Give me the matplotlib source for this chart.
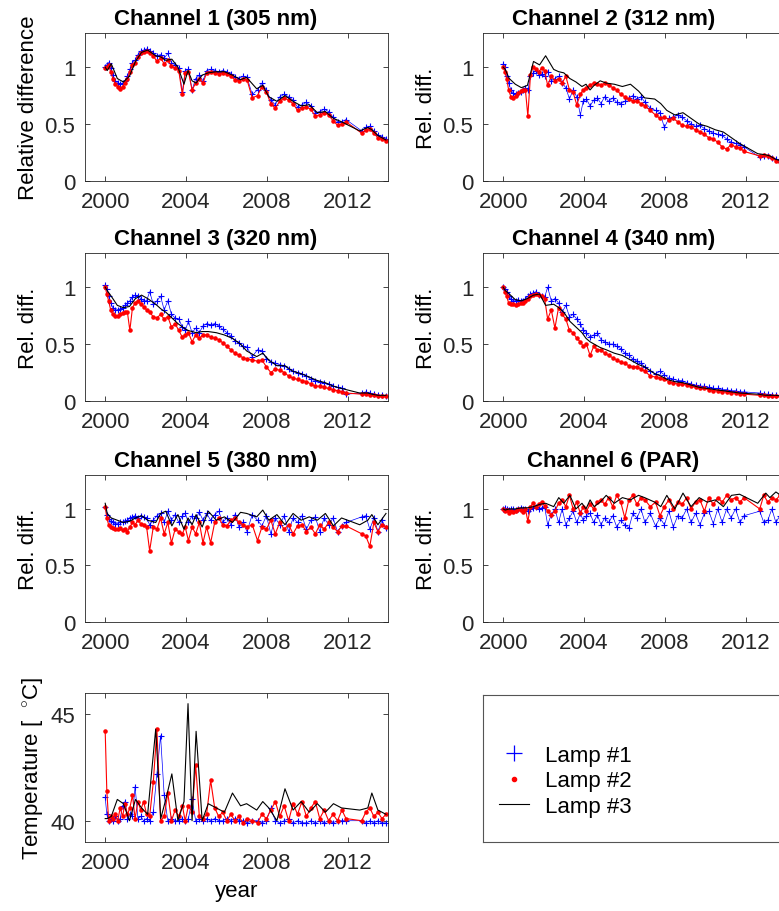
import numpy as np
import matplotlib
matplotlib.use("Agg")
import matplotlib.pyplot as plt
from matplotlib.lines import Line2D

plt.rcParams['font.family'] = ['Liberation Sans', 'DejaVu Sans']
plt.rcParams['mathtext.fontset'] = 'custom'
plt.rcParams['mathtext.rm'] = 'Liberation Sans'

# measurement dates for lamps #1 and #2 (decimal year)
dates_12 = [2000.00, 2000.08, 2000.17, 2000.27, 2000.38, 2000.50, 2000.62, 2000.74, 2000.86, 2000.98,
            2001.10, 2001.22, 2001.35, 2001.48, 2001.62, 2001.76, 2001.90, 2002.05, 2002.20, 2002.38,
            2002.56, 2002.74, 2002.92, 2003.10, 2003.28, 2003.46, 2003.64, 2003.82, 2003.96, 2004.12,
            2004.30, 2004.48, 2004.66, 2004.84, 2005.02, 2005.22, 2005.42, 2005.62, 2005.82, 2006.02,
            2006.22, 2006.42, 2006.62, 2006.82, 2007.02, 2007.28, 2007.54, 2007.76, 2007.98, 2008.20,
            2008.42, 2008.64, 2008.86, 2009.08, 2009.30, 2009.52, 2009.74, 2009.96, 2010.18, 2010.40,
            2010.62, 2010.84, 2011.06, 2011.28, 2011.50, 2011.72, 2011.92, 2012.70, 2012.90, 2013.10,
            2013.30, 2013.50, 2013.70, 2013.90]

# measurement dates for lamp #3
dates_3 = [2000.00, 2000.10, 2000.30, 2000.60, 2000.90, 2001.20, 2001.50, 2001.80, 2002.10, 2002.50,
           2002.75, 2003.00, 2003.30, 2003.60, 2003.90, 2004.10, 2004.30, 2004.50, 2004.80, 2005.10,
           2005.50, 2005.90, 2006.30, 2006.70, 2007.00, 2007.50, 2007.80, 2008.10, 2008.50, 2008.90,
           2009.30, 2009.70, 2010.10, 2010.50, 2010.90, 2011.30, 2011.70, 2012.60, 2013.00, 2013.20,
           2013.50, 2013.90]

# Channel 1 (305 nm)
ch1_lamp1 = [1.00, 1.02, 1.04, 0.99, 0.93, 0.88, 0.86, 0.85, 0.86, 0.88,
             0.92, 0.98, 1.04, 1.06, 1.11, 1.14, 1.15, 1.16, 1.14, 1.12,
             1.10, 1.11, 1.08, 1.12, 1.04, 1.02, 0.99, 0.78, 0.97, 0.98,
             0.80, 0.90, 0.93, 0.88, 0.97, 0.98, 0.97, 0.96, 0.97, 0.96,
             0.94, 0.91, 0.90, 0.92, 0.91, 0.76, 0.80, 0.86, 0.80, 0.71,
             0.67, 0.74, 0.76, 0.74, 0.71, 0.65, 0.67, 0.69, 0.66, 0.60,
             0.61, 0.63, 0.61, 0.56, 0.52, 0.52, 0.54, 0.44, 0.47, 0.48,
             0.44, 0.40, 0.39, 0.37]
ch1_lamp2 = [0.99, 1.00, 1.02, 0.96, 0.90, 0.85, 0.83, 0.81, 0.83, 0.86,
             0.90, 0.96, 1.02, 1.04, 1.09, 1.12, 1.13, 1.14, 1.12, 1.10,
             1.05, 1.08, 1.03, 1.06, 1.01, 0.99, 0.97, 0.76, 0.95, 0.96,
             0.80, 0.86, 0.90, 0.86, 0.95, 0.96, 0.95, 0.94, 0.95, 0.94,
             0.92, 0.89, 0.88, 0.90, 0.89, 0.73, 0.75, 0.83, 0.78, 0.68,
             0.64, 0.70, 0.73, 0.71, 0.68, 0.62, 0.64, 0.65, 0.63, 0.57,
             0.58, 0.60, 0.58, 0.53, 0.49, 0.50, 0.52, 0.42, 0.45, 0.46,
             0.42, 0.38, 0.37, 0.35]
ch1_lamp3 = [1.00, 0.97, 1.03, 0.90, 0.87, 0.92, 1.05, 1.13, 1.15, 1.10,
             1.09, 1.06, 1.07, 1.00, 0.85, 0.97, 0.88, 0.86, 0.93, 0.95,
             0.96, 0.96, 0.93, 0.89, 0.91, 0.81, 0.84, 0.74, 0.70, 0.75,
             0.70, 0.66, 0.67, 0.60, 0.61, 0.55, 0.52, 0.44, 0.47, 0.45,
             0.40, 0.36]

# Channel 2 (312 nm)
ch2_lamp1 = [1.03, 1.00, 0.92, 0.86, 0.80, 0.77, 0.76, 0.77, 0.78, 0.80,
             0.82, 0.80, 0.92, 0.95, 0.97, 0.93, 0.94, 0.92, 0.96, 0.88,
             0.90, 0.92, 0.86, 0.82, 0.72, 0.80, 0.74, 0.58, 0.70, 0.72,
             0.66, 0.71, 0.73, 0.68, 0.74, 0.70, 0.73, 0.69, 0.68, 0.70,
             0.73, 0.75, 0.72, 0.74, 0.69, 0.64, 0.62, 0.60, 0.47, 0.55,
             0.56, 0.58, 0.56, 0.53, 0.50, 0.48, 0.49, 0.46, 0.44, 0.42,
             0.41, 0.40, 0.37, 0.34, 0.33, 0.32, 0.30, 0.21, 0.22, 0.22,
             0.20, 0.19, 0.17, 0.16]
ch2_lamp2 = [1.00, 0.96, 0.90, 0.80, 0.74, 0.73, 0.75, 0.77, 0.79, 0.80,
             0.80, 0.57, 0.93, 1.00, 0.98, 0.96, 0.99, 0.97, 0.84, 0.92,
             0.88, 0.90, 0.86, 0.92, 0.80, 0.78, 0.67, 0.76, 0.80, 0.82,
             0.84, 0.86, 0.85, 0.84, 0.86, 0.84, 0.82, 0.80, 0.76, 0.74,
             0.72, 0.70, 0.70, 0.68, 0.66, 0.62, 0.58, 0.55, 0.56, 0.54,
             0.55, 0.52, 0.49, 0.48, 0.47, 0.45, 0.43, 0.41, 0.38, 0.37,
             0.34, 0.30, 0.28, 0.32, 0.30, 0.29, 0.26, 0.22, 0.23, 0.22,
             0.20, 0.18, 0.17, 0.15]
ch2_lamp3 = [1.00, 0.98, 0.90, 0.85, 0.82, 0.84, 1.05, 1.02, 1.10, 0.98,
             0.96, 0.95, 0.90, 0.87, 0.83, 0.85, 0.80, 0.84, 0.88, 0.86,
             0.85, 0.83, 0.85, 0.79, 0.73, 0.72, 0.68, 0.62, 0.58, 0.60,
             0.55, 0.50, 0.48, 0.45, 0.43, 0.38, 0.33, 0.24, 0.23, 0.22,
             0.19, 0.17]

# Channel 3 (320 nm)
ch3_lamp1 = [1.02, 0.98, 0.92, 0.86, 0.82, 0.80, 0.80, 0.81, 0.82, 0.84,
             0.86, 0.88, 0.91, 0.93, 0.92, 0.90, 0.88, 0.88, 0.96, 0.85,
             0.88, 0.92, 0.80, 0.88, 0.76, 0.73, 0.72, 0.65, 0.62, 0.70,
             0.60, 0.64, 0.60, 0.66, 0.68, 0.67, 0.68, 0.66, 0.63, 0.60,
             0.57, 0.53, 0.51, 0.48, 0.47, 0.39, 0.45, 0.44, 0.37, 0.34,
             0.33, 0.32, 0.31, 0.28, 0.26, 0.25, 0.24, 0.22, 0.19, 0.18,
             0.17, 0.16, 0.15, 0.13, 0.12, 0.11, 0.06, 0.07, 0.08, 0.07,
             0.06, 0.05, 0.05, 0.04]
ch3_lamp2 = [1.00, 0.94, 0.88, 0.80, 0.76, 0.75, 0.75, 0.76, 0.77, 0.78,
             0.78, 0.62, 0.82, 0.86, 0.88, 0.85, 0.83, 0.80, 0.78, 0.74,
             0.73, 0.76, 0.72, 0.74, 0.65, 0.68, 0.62, 0.56, 0.58, 0.60,
             0.52, 0.58, 0.55, 0.58, 0.58, 0.56, 0.55, 0.54, 0.51, 0.48,
             0.45, 0.42, 0.40, 0.38, 0.37, 0.36, 0.35, 0.36, 0.30, 0.25,
             0.28, 0.27, 0.25, 0.22, 0.20, 0.19, 0.18, 0.17, 0.15, 0.13,
             0.13, 0.12, 0.11, 0.10, 0.09, 0.08, 0.07, 0.06, 0.06, 0.05,
             0.05, 0.04, 0.04, 0.04]
ch3_lamp3 = [1.00, 0.97, 0.92, 0.84, 0.82, 0.83, 0.90, 0.93, 0.90, 0.85,
             0.81, 0.78, 0.73, 0.68, 0.64, 0.62, 0.61, 0.60, 0.61, 0.61,
             0.60, 0.58, 0.55, 0.50, 0.44, 0.39, 0.42, 0.36, 0.31, 0.31,
             0.26, 0.24, 0.21, 0.18, 0.16, 0.13, 0.11, 0.07, 0.07, 0.06,
             0.05, 0.05]

# Channel 4 (340 nm)
ch4_lamp1 = [1.00, 0.98, 0.96, 0.92, 0.90, 0.88, 0.88, 0.89, 0.88, 0.88,
             0.90, 0.92, 0.94, 0.95, 0.96, 0.93, 0.92, 0.91, 1.00, 0.88,
             0.90, 0.86, 0.78, 0.84, 0.74, 0.76, 0.72, 0.68, 0.62, 0.60,
             0.56, 0.58, 0.60, 0.54, 0.52, 0.50, 0.50, 0.48, 0.46, 0.42,
             0.40, 0.37, 0.35, 0.33, 0.30, 0.26, 0.24, 0.26, 0.23, 0.20,
             0.19, 0.18, 0.18, 0.16, 0.15, 0.14, 0.13, 0.13, 0.12, 0.11,
             0.11, 0.10, 0.10, 0.09, 0.09, 0.08, 0.08, 0.07, 0.06, 0.06,
             0.05, 0.05, 0.05, 0.04]
ch4_lamp2 = [1.00, 0.96, 0.92, 0.86, 0.85, 0.85, 0.84, 0.85, 0.86, 0.86,
             0.88, 0.90, 0.92, 0.93, 0.94, 0.93, 0.92, 0.90, 0.72, 0.80,
             0.64, 0.82, 0.76, 0.72, 0.62, 0.60, 0.55, 0.52, 0.48, 0.50,
             0.40, 0.48, 0.45, 0.45, 0.42, 0.40, 0.38, 0.36, 0.34, 0.33,
             0.31, 0.30, 0.30, 0.28, 0.26, 0.22, 0.21, 0.20, 0.19, 0.17,
             0.16, 0.15, 0.15, 0.14, 0.13, 0.12, 0.11, 0.11, 0.10, 0.09,
             0.09, 0.08, 0.08, 0.07, 0.07, 0.06, 0.06, 0.05, 0.05, 0.04,
             0.04, 0.04, 0.04, 0.04]
ch4_lamp3 = [1.00, 0.97, 0.94, 0.89, 0.88, 0.90, 0.93, 0.94, 0.84, 0.85,
             0.82, 0.78, 0.70, 0.65, 0.60, 0.55, 0.52, 0.50, 0.47, 0.45,
             0.42, 0.40, 0.36, 0.32, 0.30, 0.24, 0.22, 0.19, 0.17, 0.16,
             0.14, 0.12, 0.11, 0.10, 0.09, 0.08, 0.07, 0.06, 0.05, 0.05,
             0.05, 0.04]

# Channel 5 (380 nm)
ch5_lamp1 = [1.02, 0.95, 0.91, 0.89, 0.88, 0.87, 0.87, 0.88, 0.88, 0.89,
             0.90, 0.92, 0.93, 0.94, 0.92, 0.94, 0.93, 0.92, 0.86, 0.90,
             0.94, 0.96, 0.88, 0.98, 0.90, 0.95, 0.88, 0.94, 0.96, 0.88,
             0.94, 0.92, 0.97, 0.90, 0.96, 0.90, 0.95, 0.98, 0.88, 0.92,
             0.86, 0.95, 0.84, 0.88, 0.80, 0.95, 0.90, 0.85, 0.94, 0.78,
             0.92, 0.86, 0.94, 0.80, 0.92, 0.88, 0.94, 0.82, 0.90, 0.93,
             0.80, 0.92, 0.86, 0.92, 0.80, 0.85, 0.88, 0.93, 0.94, 0.82,
             0.92, 0.80, 0.90, 0.83]
ch5_lamp2 = [1.02, 0.92, 0.86, 0.84, 0.83, 0.82, 0.82, 0.83, 0.81, 0.82,
             0.80, 0.84, 0.88, 0.86, 0.90, 0.87, 0.86, 0.84, 0.63, 0.84,
             0.82, 0.92, 0.78, 0.88, 0.70, 0.82, 0.80, 0.78, 0.84, 0.72,
             0.84, 0.78, 0.88, 0.70, 0.84, 0.70, 0.88, 0.92, 0.86, 0.85,
             0.90, 0.92, 0.88, 0.86, 0.84, 0.86, 0.72, 0.84, 0.82, 0.90,
             0.78, 0.88, 0.82, 0.86, 0.78, 0.85, 0.86, 0.80, 0.84, 0.78,
             0.86, 0.82, 0.88, 0.84, 0.80, 0.85, 0.85, 0.78, 0.76, 0.67,
             0.88, 0.80, 0.86, 0.84]
ch5_lamp3 = [1.05, 0.96, 0.92, 0.90, 0.88, 0.89, 0.92, 0.94, 0.90, 0.88,
             0.96, 0.98, 0.85, 0.95, 0.82, 0.92, 0.86, 0.95, 0.84, 0.98,
             0.90, 0.93, 0.88, 0.97, 0.96, 0.93, 0.99, 0.90, 0.95, 0.86,
             0.96, 0.90, 0.93, 0.90, 0.96, 0.85, 0.92, 0.86, 0.90, 0.95,
             0.86, 0.96]

# Channel 6 (PAR)
ch6_lamp1 = [1.00, 1.01, 1.00, 0.99, 1.00, 1.00, 0.99, 1.00, 1.01, 1.00,
             1.00, 0.98, 1.00, 1.01, 1.02, 1.00, 1.01, 1.02, 0.86, 0.95,
             1.00, 0.88, 1.00, 0.86, 0.92, 0.98, 0.88, 0.96, 0.90, 0.94,
             0.96, 0.88, 0.95, 0.86, 0.92, 0.88, 0.94, 0.84, 0.90, 0.86,
             0.83, 0.96, 0.92, 1.00, 0.88, 0.96, 0.85, 0.92, 0.86, 0.98,
             0.84, 0.94, 0.92, 1.00, 0.88, 0.96, 0.86, 0.96, 0.98, 0.87,
             1.00, 0.88, 1.00, 0.92, 1.00, 0.88, 0.94, 0.98, 0.88, 0.90,
             1.00, 0.88, 0.94, 0.90]
ch6_lamp2 = [1.00, 0.98, 0.99, 0.96, 0.98, 0.97, 0.98, 1.00, 0.99, 0.97,
             1.00, 0.89, 1.02, 1.05, 1.02, 1.04, 1.06, 1.03, 0.98, 0.95,
             0.98, 1.05, 1.08, 1.02, 1.12, 1.00, 1.06, 0.96, 1.02, 0.98,
             1.04, 1.00, 1.06, 1.08, 1.04, 1.10, 1.02, 1.12, 1.06, 0.92,
             1.08, 1.12, 1.04, 1.10, 1.08, 1.02, 1.06, 0.94, 1.02, 1.08,
             1.00, 1.06, 1.04, 1.10, 1.00, 1.06, 1.08, 0.98, 1.10, 1.04,
             1.10, 1.06, 1.12, 1.08, 1.10, 1.06, 1.10, 1.00, 1.12, 1.06,
             1.10, 1.08, 1.12, 1.10]
ch6_lamp3 = [1.00, 0.99, 1.00, 1.00, 1.01, 1.01, 1.02, 1.04, 1.05, 1.02,
             1.10, 1.05, 1.12, 1.00, 1.05, 1.00, 1.08, 1.02, 1.06, 1.12,
             1.05, 1.10, 1.08, 1.12, 1.10, 1.06, 1.02, 1.12, 1.00, 1.14,
             1.02, 1.10, 1.06, 1.08, 1.02, 1.12, 1.13, 1.05, 1.14, 1.10,
             1.15, 1.10]

# lamp temperature [deg C]
temp_lamp1 = [41.1, 40.3, 40.0, 40.1, 40.0, 40.2, 40.0, 40.1, 40.7, 40.9,
              40.1, 40.3, 40.2, 41.6, 40.1, 40.2, 40.0, 40.1, 40.0, 40.4,
              42.2, 44.0, 41.2, 40.0, 40.1, 40.0, 40.0, 40.1, 40.0, 40.1,
              41.0, 40.0, 40.1, 40.0, 40.1, 40.0, 40.1, 40.0, 40.0, 40.1,
              40.0, 40.1, 40.0, 40.0, 39.9, 40.0, 40.0, 39.9, 40.0, 40.6,
              40.0, 39.9, 40.0, 40.1, 39.9, 40.0, 39.9, 39.9, 40.0, 39.9,
              40.0, 39.9, 40.0, 39.9, 40.0, 40.0, 40.0, 40.0, 39.9, 40.0,
              39.9, 40.0, 39.9, 39.9]
temp_lamp2 = [44.2, 41.4, 40.0, 40.2, 40.1, 40.3, 40.0, 40.6, 40.2, 40.8,
              40.3, 40.6, 41.2, 40.1, 40.9, 40.5, 40.9, 40.3, 40.2, 41.8,
              44.3, 40.0, 40.2, 41.3, 40.0, 40.5, 40.2, 40.7, 40.0, 40.7,
              40.4, 42.6, 40.2, 40.1, 40.3, 41.9, 40.6, 40.2, 40.4, 40.0,
              40.3, 40.0, 40.2, 39.9, 40.1, 40.0, 39.9, 40.3, 40.1, 40.5,
              40.9, 40.2, 40.7, 40.0, 40.8, 40.3, 40.9, 40.2, 40.6, 40.9,
              40.1, 40.5, 40.0, 40.3, 40.0, 40.5, 40.1, 40.0, 40.4, 40.6,
              40.2, 40.4, 40.1, 40.3]
temp_lamp3 = [40.1, 40.1, 40.2, 41.0, 40.8, 40.0, 41.0, 40.6, 40.3, 44.3,
              40.1, 41.0, 42.2, 40.0, 40.9, 45.5, 40.0, 44.2, 40.0, 40.8,
              40.6, 40.4, 41.3, 40.7, 40.8, 40.5, 40.9, 40.6, 40.0, 41.5,
              40.5, 40.9, 40.4, 40.8, 40.4, 40.8, 40.6, 40.5, 40.6, 41.3,
              40.5, 40.3]

titles = ['Channel 1 (305 nm)', 'Channel 2 (312 nm)', 'Channel 3 (320 nm)',
          'Channel 4 (340 nm)', 'Channel 5 (380 nm)', 'Channel 6 (PAR)']
channels = [(ch1_lamp1, ch1_lamp2, ch1_lamp3), (ch2_lamp1, ch2_lamp2, ch2_lamp3),
            (ch3_lamp1, ch3_lamp2, ch3_lamp3), (ch4_lamp1, ch4_lamp2, ch4_lamp3),
            (ch5_lamp1, ch5_lamp2, ch5_lamp3), (ch6_lamp1, ch6_lamp2, ch6_lamp3)]
year_ticks = [2000, 2004, 2008, 2012]
labels = ['Lamp #1', 'Lamp #2', 'Lamp #3']

W, H = 779, 912
AX_COLOR = '#262626'


def px_axes(fig, left, top, right, bottom):
    """Add axes from pixel box (origin top left)."""
    return fig.add_axes([left / W, 1 - bottom / H, (right - left) / W, (bottom - top) / H])


def style_axes(ax):
    ax.tick_params(direction='in', length=3.5, width=0.6, top=True, right=True,
                   labelsize=16, colors=AX_COLOR, pad=7)
    for s in ax.spines.values():
        s.set_color(AX_COLOR)
        s.set_linewidth(0.6)


def draw_lamps(ax, y1, y2, y3):
    ax.plot(dates_12, y1, color='blue', marker='+', markersize=5, markeredgewidth=0.8, lw=0.5)
    ax.plot(dates_12, y2, color='red', marker='.', markersize=4.5, lw=0.8)
    ax.plot(dates_3, y3, color='black', lw=0.8)


fig = plt.figure(figsize=(W / 100, H / 100), dpi=100)

col_left = [85, 483]
row_top = [34, 254, 476]
row_bottom = [182, 402, 623]

for i, (title, (y1, y2, y3)) in enumerate(zip(titles, channels)):
    r, c = divmod(i, 2)
    ax = px_axes(fig, col_left[c], row_top[r], col_left[c] + 303, row_bottom[r])
    draw_lamps(ax, y1, y2, y3)
    ax.set_xlim(1999, 2014)
    ax.set_ylim(0, 1.3)
    ax.set_xticks(year_ticks)
    ax.set_yticks([0, 0.5, 1])
    ax.set_yticklabels(['0', '0.5', '1'])
    ax.set_title(title, fontsize=16, fontweight='bold', x=0.43, pad=6.5)
    if i == 0:
        ax.set_ylabel('Relative difference', fontsize=16, labelpad=4)
    else:
        ax.set_ylabel('Rel. diff.', fontsize=16, labelpad=4)
    style_axes(ax)

# temperature panel
ax_t = px_axes(fig, 85, 694, 388, 843)
draw_lamps(ax_t, temp_lamp1, temp_lamp2, temp_lamp3)
ax_t.set_xlim(1999, 2014)
ax_t.set_ylim(39, 46)
ax_t.set_xticks(year_ticks)
ax_t.set_yticks([40, 45])
ax_t.set_ylabel(r'Temperature [  $^{\circ}$C]', fontsize=16, labelpad=4)
ax_t.set_xlabel('year', fontsize=16, labelpad=5)
style_axes(ax_t)

# legend box
ax_leg = px_axes(fig, 483, 696, 786, 843)
ax_leg.set_xticks([])
ax_leg.set_yticks([])
for s in ax_leg.spines.values():
    s.set_color('#555555')
    s.set_linewidth(0.8)

handles = [Line2D([], [], color='blue', marker='+', markersize=11, markeredgewidth=0.9, lw=0),
           Line2D([], [], color='red', marker='.', markersize=6, lw=0),
           Line2D([], [], color='black', lw=0.8)]
fig.legend(handles, labels, loc='center left', bbox_to_anchor=(499 / W, 1 - 782 / H),
           frameon=False, fontsize=16, handlelength=1.35, handletextpad=0.7,
           labelspacing=0.2, borderpad=0, borderaxespad=0)

fig.savefig('out.png', dpi=100)
